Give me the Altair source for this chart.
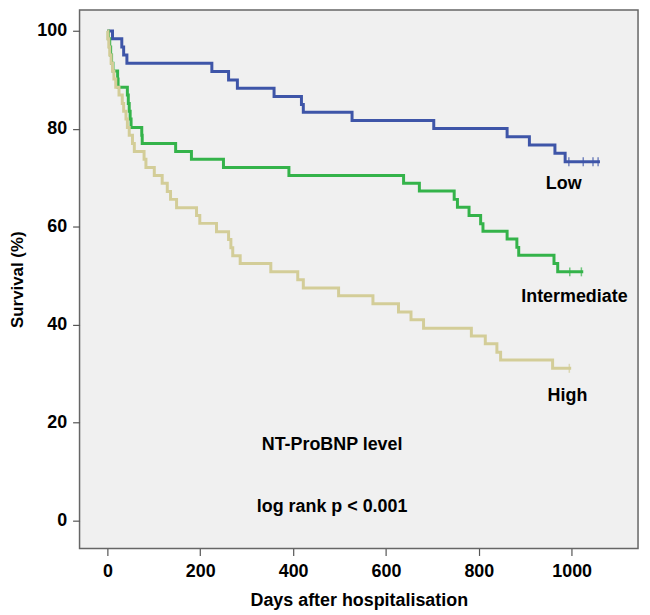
import altair as alt
import pandas as pd

# Kaplan-Meier step data (days, survival %)
low_days = [0, 11, 31, 35, 42, 225, 261, 280, 359, 418, 422, 527, 703, 861, 909, 964, 986, 1061]
low_surv = [100, 98.4, 96.7, 95.1, 93.4, 91.7, 90.0, 88.3, 86.6, 85.0, 83.4, 81.7, 80.1, 78.4, 76.7, 75.0, 73.3, 73.3]
low_cens = [994, 1025, 1046, 1057]

int_days = [0, 2, 5, 7, 9, 12, 22, 23, 43, 45, 47, 49, 51, 74, 75, 147, 181, 250, 391, 638, 672,
            747, 754, 779, 804, 809, 861, 882, 886, 962, 970, 1025]
int_surv = [100, 98.4, 96.7, 95.1, 93.4, 91.8, 90.2, 88.5, 86.9, 85.2, 83.6, 82.0, 80.3, 78.7, 77.0,
            75.4, 73.8, 72.1, 70.5, 68.9, 67.3, 65.6, 64.0, 62.3, 60.6, 59.1, 57.5, 55.8, 54.2, 52.5,
            50.8, 50.8]
int_cens = [996, 1021]

high_days = [0, 1, 3, 5, 8, 11, 14, 18, 25, 32, 35, 40, 43, 47, 54, 58, 79, 83, 101, 118, 129, 136,
             149, 192, 199, 235, 261, 266, 270, 286, 352, 410, 422, 498, 572, 627, 654, 681, 784, 814,
             839, 847, 959, 999]
high_surv = [100, 98.4, 96.7, 95.1, 93.4, 91.8, 90.2, 88.5, 86.9, 85.2, 83.6, 82.0, 80.3, 78.7, 77.0,
             75.4, 73.8, 72.1, 70.5, 68.9, 67.2, 65.6, 63.9, 62.3, 60.7, 59.0, 57.4, 55.7, 54.1, 52.5,
             50.8, 49.2, 47.5, 45.9, 44.3, 42.6, 41.0, 39.3, 37.7, 36.1, 34.4, 32.8, 31.1, 31.1]
high_cens = [995]

groups = ["High", "Intermediate", "Low"]
colors = ["#D3CD98", "#34B34A", "#3E55A8"]

label_text = ["Low", "Intermediate", "High", "NT-ProBNP level", "log rank p < 0.001"]
label_x = [983, 1006, 991, 484, 484]
label_y = [68.8, 45.6, 25.4, 15.4, 2.8]

rows = []
for g, d, s in [("Low", low_days, low_surv), ("Intermediate", int_days, int_surv), ("High", high_days, high_surv)]:
    for t, v in zip(d, s):
        rows.append({"group": g, "days": t, "surv": v})
curves = pd.DataFrame(rows)

crow = []
for g, cl, d, s in [("Low", low_cens, low_days, low_surv), ("Intermediate", int_cens, int_days, int_surv),
                    ("High", high_cens, high_days, high_surv)]:
    for t in cl:
        crow.append({"group": g, "days": t, "surv": s[-1]})
cens = pd.DataFrame(crow)

labels = pd.DataFrame({"text": label_text, "days": label_x, "surv": label_y})

FONT = "Liberation Sans, Arial, sans-serif"

xs = alt.Scale(domain=[-60, 1143], nice=False, zero=False)
ys = alt.Scale(domain=[-5.7, 104.3], nice=False, zero=False)
cs = alt.Scale(domain=groups, range=colors)

xax = alt.Axis(values=[0, 200, 400, 600, 800, 1000], format="d", title="Days after hospitalisation",
               grid=False, domain=False, tickSize=7, tickColor="#555", tickWidth=1.2, labelFont=FONT,
               labelFontSize=18, labelFontWeight="bold", labelColor="black", labelPadding=7, titleFont=FONT,
               titleFontSize=18, titleFontWeight="bold", titleColor="black", titlePadding=11)
yax = alt.Axis(values=[0, 20, 40, 60, 80, 100], format="d", title="Survival (%)", grid=False, domain=False,
               tickSize=7, tickColor="#555", tickWidth=1.2, labelFont=FONT, labelFontSize=18,
               labelFontWeight="bold", labelColor="black", labelPadding=6, titleFont=FONT, titleFontSize=17,
               titleFontWeight="bold", titleColor="black", titlePadding=10)

lines = alt.Chart(curves).mark_line(interpolate="step-after", strokeWidth=3).encode(
    x=alt.X("days:Q", scale=xs, axis=xax),
    y=alt.Y("surv:Q", scale=ys, axis=yax),
    color=alt.Color("group:N", scale=cs, legend=None),
    order=alt.value(0),
)

ticks = alt.Chart(cens).mark_tick(orient="vertical", size=9, thickness=1.5).encode(
    x=alt.X("days:Q", scale=xs),
    y=alt.Y("surv:Q", scale=ys),
    color=alt.Color("group:N", scale=cs, legend=None),
)

texts = alt.Chart(labels).mark_text(font=FONT, fontSize=18, fontWeight="bold", color="black",
                                    align="center", baseline="middle").encode(
    x=alt.X("days:Q", scale=xs),
    y=alt.Y("surv:Q", scale=ys),
    text="text:N",
)

chart = alt.layer(lines, ticks, texts).properties(
    width=562, height=542,
    autosize=alt.AutoSizeParams(type="none"),
    padding={"left": 72, "top": 0, "right": 4, "bottom": 62},
    background="white",
).configure_view(fill="#F0F0F0", stroke="#666", strokeWidth=1.5)

chart.save("out.html", embed_options={"renderer": "svg", "actions": False})
